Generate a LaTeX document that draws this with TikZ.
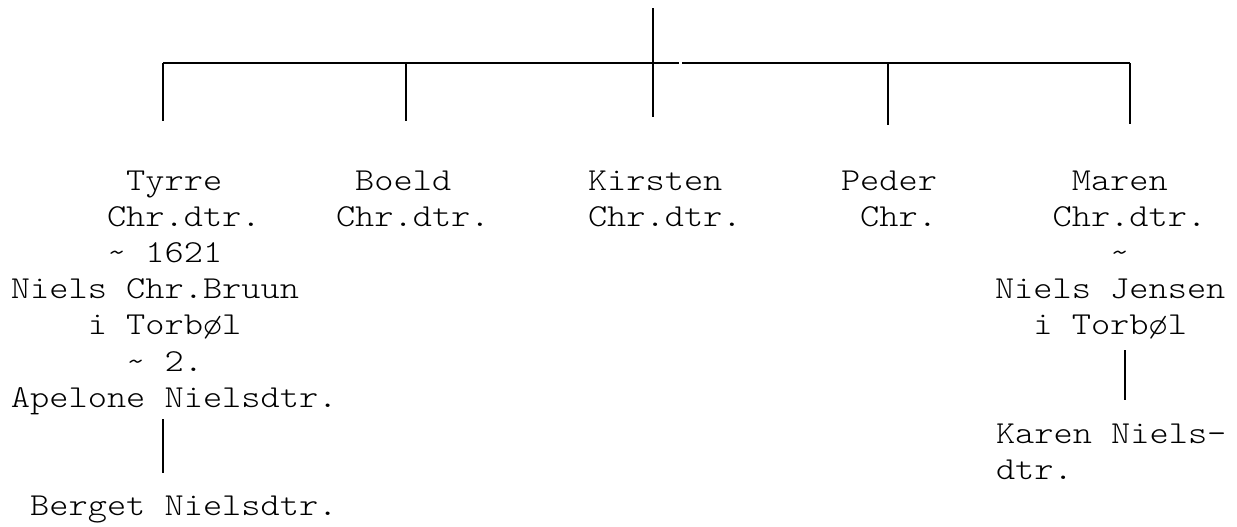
\documentclass[tikz,border=0pt]{standalone}
\usepackage{fontspec}
\newfontfamily\cour{lmmonolt10-regular}[Extension=.otf, FakeStretch=1.1429, WordSpace={1,0,0}]
\tikzset{
  txt/.style={anchor=base west, inner sep=0pt, outer sep=0pt,
    font=\cour\fontsize{24pt}{27.2pt}\selectfont},
  link/.style={line width=1.1pt, line cap=butt}
}
\begin{document}
\begin{tikzpicture}[x=0.75pt,y=-0.75pt]
\useasboundingbox (0,0) rectangle (1237,526);
% ---- connector points
\coordinate (rootTop) at (653,8);
\coordinate (rootBot) at (653,117);
\coordinate (barL) at (163,63);
\coordinate (barM1) at (679,63);
\coordinate (barM2) at (682,63);
\coordinate (barR) at (1130,63);
\coordinate (b1) at (163,63);  \coordinate (e1) at (163,121);
\coordinate (b2) at (406,63);  \coordinate (e2) at (406,121);
\coordinate (b4) at (888,63);  \coordinate (e4) at (888,125);
\coordinate (b5) at (1130,63); \coordinate (e5) at (1130,124);
\coordinate (c1a) at (163,419); \coordinate (c1b) at (163,473);
\coordinate (c5a) at (1125,350); \coordinate (c5b) at (1125,400);
% ---- Tyrre block
\node[txt] (tyrre)   at (126.2,190) {Tyrre};
\node[txt] (tyrreB)  at (107,226.2) {Chr.dtr.};
\node[txt] (tyrreC)  at (107,262.4) {\textasciitilde{} 1621};
\node[txt] (tyrreD)  at (11,298.6) {Niels Chr.Bruun};
\node[txt] (tyrreE)  at (87.8,334.8) {i Torbøl};
\node[txt] (tyrreF)  at (126.2,371) {\textasciitilde{} 2.};
\node[txt] (tyrreG)  at (11,407.2) {Apelone Nielsdtr.};
\node[txt] (berget)  at (30.2,515) {Berget Nielsdtr.};
% ---- Boeld
\node[txt] (boeld)   at (355.2,190) {Boeld};
\node[txt] (boeldB)  at (336,226.2) {Chr.dtr.};
% ---- Kirsten
\node[txt] (kirsten) at (588,190) {Kirsten};
\node[txt] (kirstenB) at (588,226.2) {Chr.dtr.};
% ---- Peder
\node[txt] (peder)   at (841,190) {Peder};
\node[txt] (pederB)  at (860.2,226.2) {Chr.};
% ---- Maren block
\node[txt] (maren)   at (1071.8,190) {Maren};
\node[txt] (marenB)  at (1052.6,226.2) {Chr.dtr.};
\node[txt] (marenC)  at (1110.2,262.4) {\textasciitilde};
\node[txt] (marenD)  at (995,298.6) {Niels Jensen};
\node[txt] (marenE)  at (1033.4,334.8) {i Torbøl};
\node[txt] (karen)   at (996,443.4) {Karen Niels-};
\node[txt] (karenB)  at (996,479.6) {dtr.};
% ---- lines
\draw[link] (rootTop) -- (rootBot);
\draw[link] (barL) -- (barM1);
\draw[link] (barM2) -- (barR);
\draw[link] (b1) -- (e1);
\draw[link] (b2) -- (e2);
\draw[link] (b4) -- (e4);
\draw[link] (b5) -- (e5);
\draw[link] (c1a) -- (c1b);
\draw[link] (c5a) -- (c5b);
\end{tikzpicture}
\end{document}
